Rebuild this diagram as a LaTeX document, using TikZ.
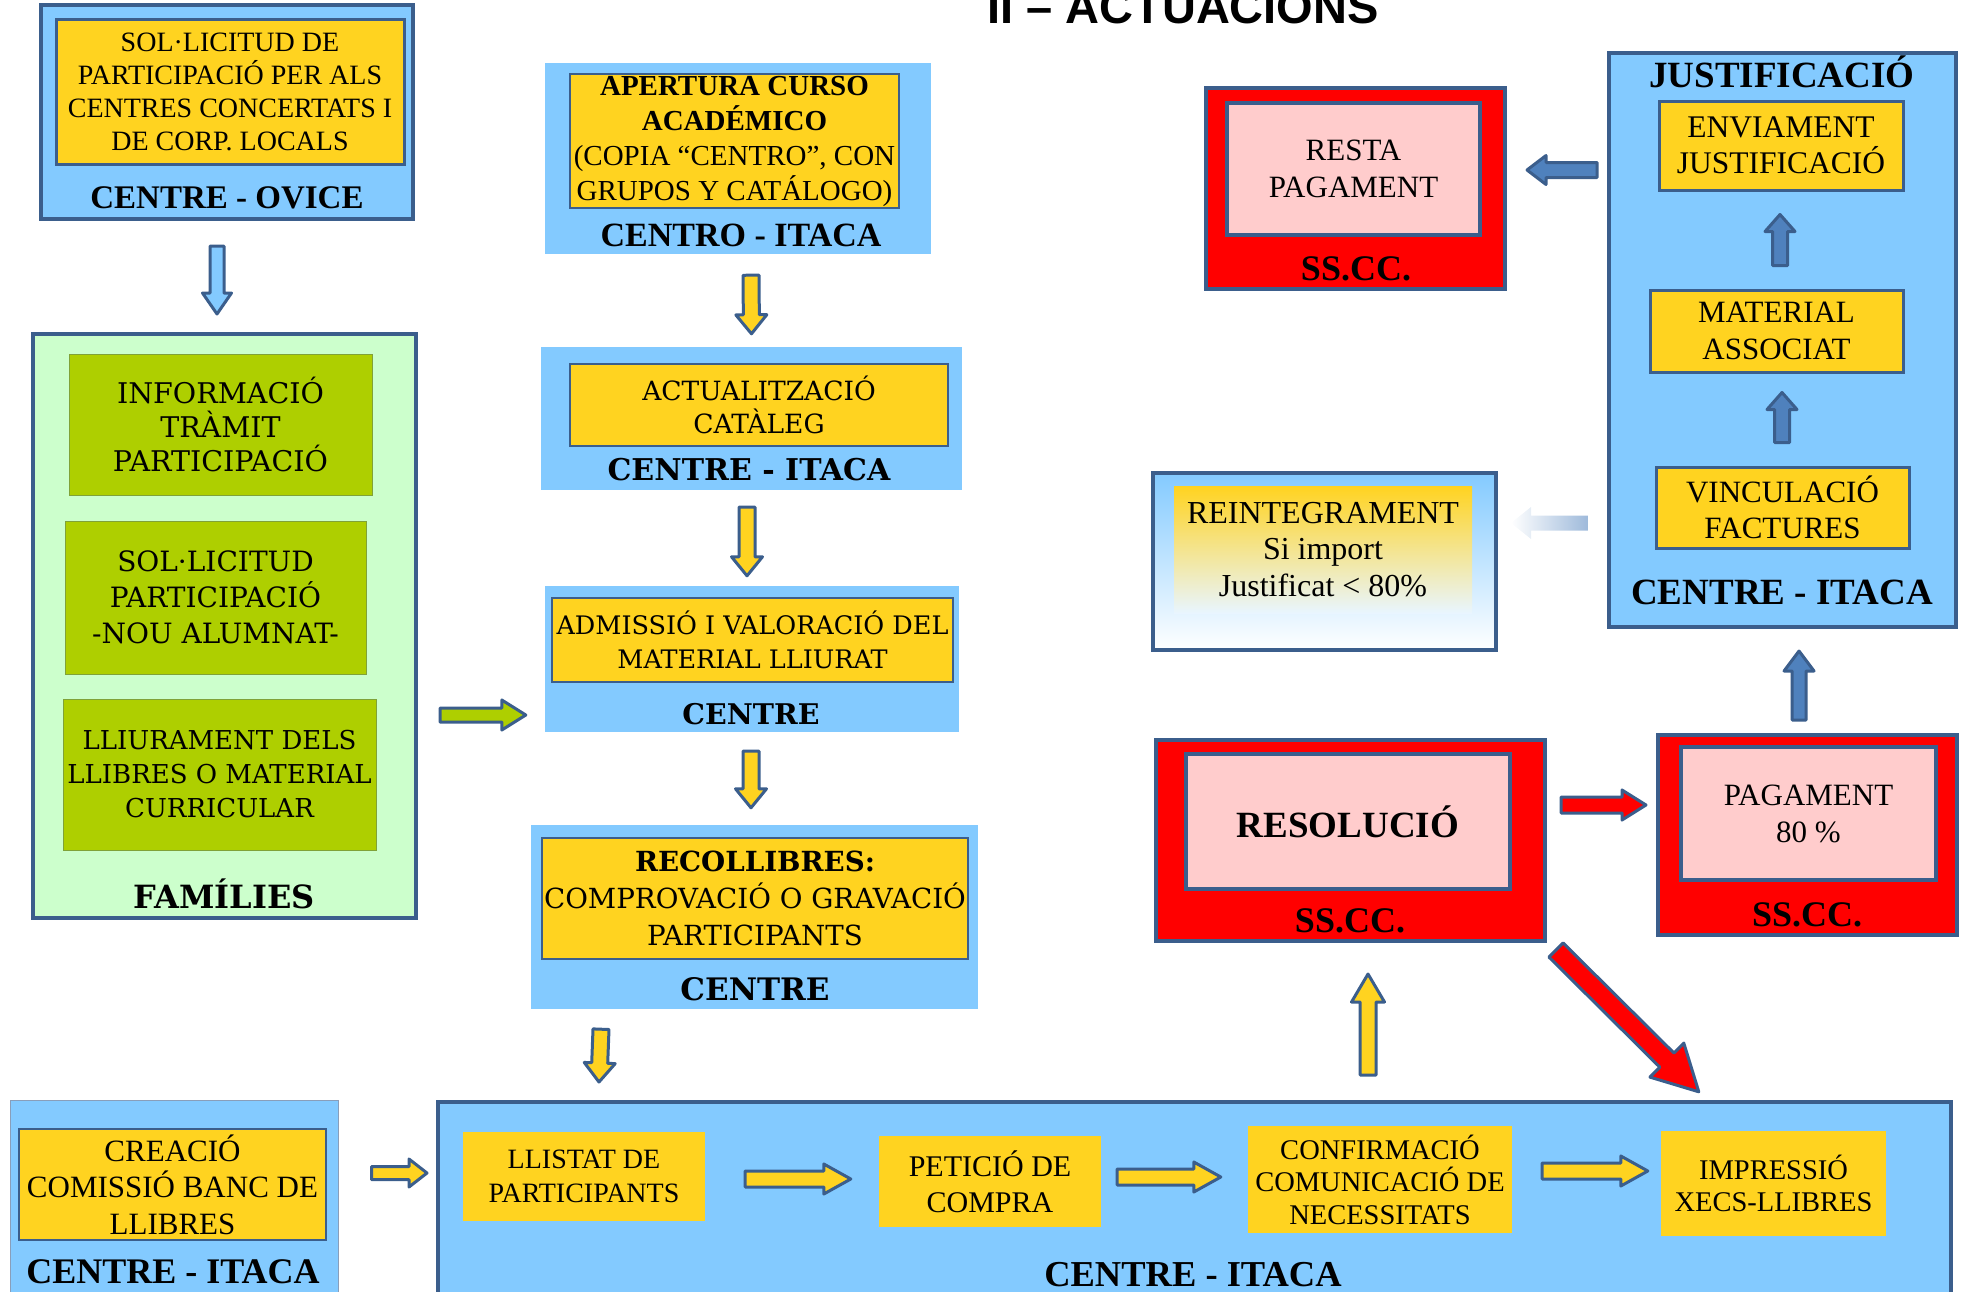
\documentclass[tikz,border=0pt]{standalone}
\usepackage{fontspec}
\setmainfont{Liberation Serif}
\newfontfamily\wideserif{DejaVu Serif}
\newfontfamily\headsans{Liberation Sans}
\usetikzlibrary{calc}

\definecolor{boxblue}{HTML}{83CAFF}
\definecolor{edgeblue}{HTML}{3B5E8C}
\definecolor{boxyellow}{HTML}{FFD320}
\definecolor{boxgreen}{HTML}{AECF00}
\definecolor{palegreen}{HTML}{CCFFCC}
\definecolor{boxpink}{HTML}{FFCCCC}
\definecolor{boxred}{HTML}{FF0000}
\definecolor{arrowblue}{HTML}{4F81BD}

\tikzset{
  panel/.style={fill=boxblue, draw=edgeblue, line width=4pt},
  flatpanel/.style={fill=boxblue},
  redpanel/.style={fill=boxred, draw=edgeblue, line width=4pt},
  task/.style={fill=boxyellow, draw=edgeblue, line width=3pt, align=center, inner sep=0pt},
  flattask/.style={fill=boxyellow, align=center, inner sep=0pt},
  famtask/.style={fill=boxgreen, draw=boxgreen!60!edgeblue, line width=1pt, align=center,
    inner sep=0pt, font={\wideserif\fontsize{28.5}{34}\selectfont}},
  pinktask/.style={fill=boxpink, draw=edgeblue, line width=4pt, align=center, inner sep=0pt},
  who/.style={font={\bfseries\fontsize{34}{36}\selectfont}, inner sep=0pt},
  widewho/.style={font={\wideserif\bfseries\fontsize{30}{32}\selectfont}, inner sep=0pt},
  blockedge/.style={draw=edgeblue, line width=3pt, line join=round},
}

% block arrow: style, shaft half width, head half width, head length, from, to
\newcommand{\blockarrow}[6]{%
  \path[blockedge, #1] let \p1=(#5), \p2=(#6),
      \n1={atan2(\y2-\y1,\x2-\x1)}, \n2={veclen(\x2-\x1,\y2-\y1)} in
    ([shift={(\p1)},rotate=\n1]0pt,#2pt) -- ([shift={(\p1)},rotate=\n1]\n2-#4pt,#2pt)
    -- ([shift={(\p1)},rotate=\n1]\n2-#4pt,#3pt) -- ([shift={(\p1)},rotate=\n1]\n2,0pt)
    -- ([shift={(\p1)},rotate=\n1]\n2-#4pt,-#3pt) -- ([shift={(\p1)},rotate=\n1]\n2-#4pt,-#2pt)
    -- ([shift={(\p1)},rotate=\n1]0pt,-#2pt) -- cycle;
}

\begin{document}
\begin{tikzpicture}[x=1pt, y=-1pt]
\useasboundingbox (0,0) rectangle (1963,1291);
\clip (0,0) rectangle (1963,1291);

\node[font={\headsans\bfseries\fontsize{47}{48}\selectfont}, anchor=base] (title) at (1183,23) {II – ACTUACIONS};

% left column
\node[panel, minimum width=372, minimum height=214] (ovice) at (227,112) {};
\node[task, minimum width=348, minimum height=145, font={\fontsize{28}{33}\selectfont}] (oviceT) at (230,91.5)
  {SOL·LICITUD DE\\PARTICIPACIÓ PER ALS\\CENTRES CONCERTATS I\\DE CORP. LOCALS};
\node[who, font={\bfseries\fontsize{33}{36}\selectfont}] (oviceL) at (227,198) {CENTRE - OVICE};

\node[draw=edgeblue, line width=4pt, fill=palegreen, minimum width=383, minimum height=584] (fam) at (224.5,626) {};
\node[famtask, minimum width=303, minimum height=141] (famInfo) at (220.5,424.5) {INFORMACIÓ\\TRÀMIT\\PARTICIPACIÓ};
\node[famtask, minimum width=301, minimum height=153, font={\wideserif\fontsize{28}{36}\selectfont}] (famSol) at (215.5,597.5) {SOL·LICITUD\\PARTICIPACIÓ\\-NOU ALUMNAT-};
\node[famtask, minimum width=313, minimum height=151, font={\wideserif\fontsize{26}{34}\selectfont}] (famLli) at (219.5,774.5) {LLIURAMENT DELS\\LLIBRES O MATERIAL\\CURRICULAR};
\node[widewho, font={\wideserif\bfseries\fontsize{32}{34}\selectfont}, anchor=base] (famL) at (224,908) {FAMÍLIES};

% middle column
\node[flatpanel, minimum width=386, minimum height=191] (obert) at (738,158.5) {};
\node[task, line width=1.5pt, minimum width=329, minimum height=134, font={\fontsize{29}{35}\selectfont}] (obertT) at (734.5,141)
  {\textbf{APERTURA CURSO}\\\textbf{ACADÉMICO}\\(COPIA “CENTRO”, CON\\GRUPOS Y CATÁLOGO)};
\node[who] (obertL) at (741,235) {CENTRO - ITACA};

\node[flatpanel, minimum width=421, minimum height=143] (cataleg) at (751.5,418.5) {};
\node[task, line width=1.5pt, minimum width=378, minimum height=82, font={\wideserif\fontsize{26.5}{33}\selectfont}] (catalegT) at (759,405)
  {ACTUALITZACIÓ\\CATÀLEG};
\node[widewho] (catalegL) at (749,470) {CENTRE - ITACA};

\node[flatpanel, minimum width=414, minimum height=146] (admis) at (752,659) {};
\node[task, line width=1.5pt, minimum width=401, minimum height=84, font={\wideserif\fontsize{25.5}{34}\selectfont}] (admisT) at (752.5,640)
  {ADMISSIÓ I VALORACIÓ DEL\\MATERIAL LLIURAT};
\node[widewho, font={\wideserif\bfseries\fontsize{28.5}{32}\selectfont}] (admisL) at (751,714) {CENTRE};

\node[flatpanel, minimum width=447, minimum height=184] (recull) at (754.5,917) {};
\node[task, line width=1.5pt, minimum width=426, minimum height=121, font={\wideserif\fontsize{27.7}{37}\selectfont}] (recullT) at (755,898.5)
  {\textbf{RECOLLIBRES:}\\COMPROVACIÓ O GRAVACIÓ\\PARTICIPANTS};
\node[widewho, font={\wideserif\bfseries\fontsize{31}{32}\selectfont}] (recullL) at (755,989) {CENTRE};

% bottom row
\node[flatpanel, draw=edgeblue!60, line width=1pt, minimum width=328, minimum height=200] (banc) at (174,1200) {};
\node[task, line width=2pt, minimum width=307, minimum height=111, font={\fontsize{31}{36.5}\selectfont}] (bancT) at (172.5,1184.5)
  {CREACIÓ\\COMISSIÓ BANC DE\\LLIBRES};
\node[who, font={\bfseries\fontsize{36}{38}\selectfont}] (bancL) at (173,1272) {CENTRE - ITACA};

\node[panel, minimum width=1513, minimum height=198] (itaca) at (1194.5,1201) {};
\node[flattask, minimum width=242, minimum height=89, font={\fontsize{28}{34}\selectfont}] (llistat) at (584,1176.5) {LLISTAT DE\\PARTICIPANTS};
\node[flattask, minimum width=222, minimum height=91, font={\fontsize{30}{36}\selectfont}] (compra) at (990,1181.5) {PETICIÓ DE\\COMPRA};
\node[flattask, minimum width=264, minimum height=107, font={\fontsize{28.5}{32.5}\selectfont}] (necess) at (1380,1179.5) {CONFIRMACIÓ\\COMUNICACIÓ DE\\NECESSITATS};
\node[flattask, minimum width=225, minimum height=105, font={\fontsize{28.5}{32}\selectfont}] (xecs) at (1773.5,1183.5) {IMPRESSIÓ\\XECS-LLIBRES};
\node[who, font={\bfseries\fontsize{36.5}{38}\selectfont}] (itacaL) at (1193,1275) {CENTRE - ITACA};

% right side
\node[redpanel, minimum width=389, minimum height=201] (resol) at (1350.5,840.5) {};
\node[pinktask, minimum width=324, minimum height=135, font={\bfseries\fontsize{37}{40}\selectfont}] (resolT) at (1348,821.5) {RESOLUCIÓ};
\node[who, font={\bfseries\fontsize{36}{38}\selectfont}] (resolL) at (1350,921) {SS.CC.};

\node[redpanel, minimum width=299, minimum height=200] (pag) at (1807.5,835) {};
\node[pinktask, minimum width=255, minimum height=133, font={\fontsize{31}{37}\selectfont}] (pagT) at (1808.5,813.5) {PAGAMENT\\80 \%};
\node[who, font={\bfseries\fontsize{36}{38}\selectfont}] (pagL) at (1807,915) {SS.CC.};

\node[panel, minimum width=347, minimum height=574] (justif) at (1782.5,340) {};
\node[who, font={\bfseries\fontsize{37}{38}\selectfont}, anchor=base] (justifL) at (1782,87) {JUSTIFICACIÓ};
\node[task, minimum width=244, minimum height=89, font={\fontsize{31.5}{36}\selectfont}] (envia) at (1781,145.5) {ENVIAMENT\\JUSTIFICACIÓ};
\node[task, minimum width=253, minimum height=82, font={\fontsize{31}{37}\selectfont}] (assoc) at (1776.5,331) {MATERIAL\\ASSOCIAT};
\node[task, minimum width=253, minimum height=81, font={\fontsize{31}{36}\selectfont}] (factures) at (1782.5,507.5) {VINCULACIÓ\\FACTURES};
\node[who, font={\bfseries\fontsize{37}{38}\selectfont}] (justifI) at (1782,592) {CENTRE - ITACA};

\node[redpanel, minimum width=299, minimum height=201] (resta) at (1355.5,188.5) {};
\node[pinktask, minimum width=253, minimum height=132, font={\fontsize{31}{37.5}\selectfont}] (restaT) at (1353.5,169) {RESTA\\PAGAMENT};
\node[who, font={\bfseries\fontsize{36}{38}\selectfont}] (restaL) at (1356,269) {SS.CC.};

\node[draw=edgeblue, line width=4pt, top color=boxblue, bottom color=white, minimum width=343, minimum height=177] (reint) at (1324.5,561.5) {};
\node[top color=boxyellow, bottom color=boxblue!18!white, minimum width=298, minimum height=127, inner sep=0pt,
  align=center, font={\fontsize{32}{36.5}\selectfont}] (reintT) at (1323,549.5) {REINTEGRAMENT\\Si import\\Justificat < 80\%};

% arrows
\blockarrow{fill=boxblue}{7}{14.5}{21}{$(ovice.south)+(-10,25)$}{$(fam.north)+(-7.5,-18)$}
\blockarrow{fill=boxgreen}{7}{15}{24}{$(fam.east)+(22,89)$}{$(admis.west)+(-19,56)$}
\blockarrow{fill=boxyellow}{8}{15.5}{19}{$(obert.south)+(13,21)$}{$(cataleg.north)+(0,-13)$}
\blockarrow{fill=boxyellow}{8}{15.5}{19}{$(cataleg.south)+(-4.5,17)$}{$(admis.north)+(-5,-10)$}
\blockarrow{fill=boxyellow}{8}{15.5}{19}{$(admis.south)+(-1,19)$}{$(recull.north)+(-3.5,-17)$}
\blockarrow{fill=boxyellow}{8}{15.5}{19}{$(recull.south)+(-153.5,20)$}{$(itaca.north west)+(163,-18)$}
\blockarrow{fill=boxyellow}{6.5}{14}{18}{$(banc.east)+(33,-27)$}{$(itaca.west)+(-9,-28)$}
\blockarrow{fill=boxyellow}{8}{15}{27}{$(llistat.east)+(40,2.5)$}{$(compra.west)+(-28,-2.5)$}
\blockarrow{fill=boxyellow}{8}{15}{27}{$(compra.east)+(16,-4.5)$}{$(necess.west)+(-27,-2.5)$}
\blockarrow{fill=boxyellow}{8}{15}{27}{$(necess.east)+(30,-8.5)$}{$(xecs.west)+(-13,-12.5)$}
\blockarrow{fill=boxyellow}{8}{16.5}{28}{$(itaca.north)+(173.5,-25)$}{$(resol.south)+(17.5,31)$}
\blockarrow{fill=boxred}{8}{15}{24}{$(resol.east)+(14,-35.5)$}{$(pag.west)+(-10,-30)$}
\blockarrow{fill=boxred}{10}{24}{45}{$(resol.south east)+(9,7)$}{$(xecs.north west)+(38,-39)$}
\blockarrow{fill=arrowblue}{7}{15}{20}{$(pag.north)+(-8.5,-13)$}{$(justif.south)+(16.5,22)$}
\blockarrow{fill=arrowblue}{7.5}{15}{17}{$(factures.north)+(-0.5,-23)$}{$(assoc.south)+(5.5,19)$}
\blockarrow{fill=arrowblue}{7.5}{15}{17}{$(assoc.north)+(3.5,-23)$}{$(envia.south)+(-1,23)$}
\blockarrow{fill=arrowblue}{7.5}{14.5}{19}{$(justif.west)+(-10,-170)$}{$(resta.east)+(20,-18.5)$}
\blockarrow{draw=none, left color=white, right color=arrowblue!55}{7.5}{16}{20}{$(justif.west)+(-19,183)$}{$(reint.east)+(13,-38.5)$}

\end{tikzpicture}
\end{document}
